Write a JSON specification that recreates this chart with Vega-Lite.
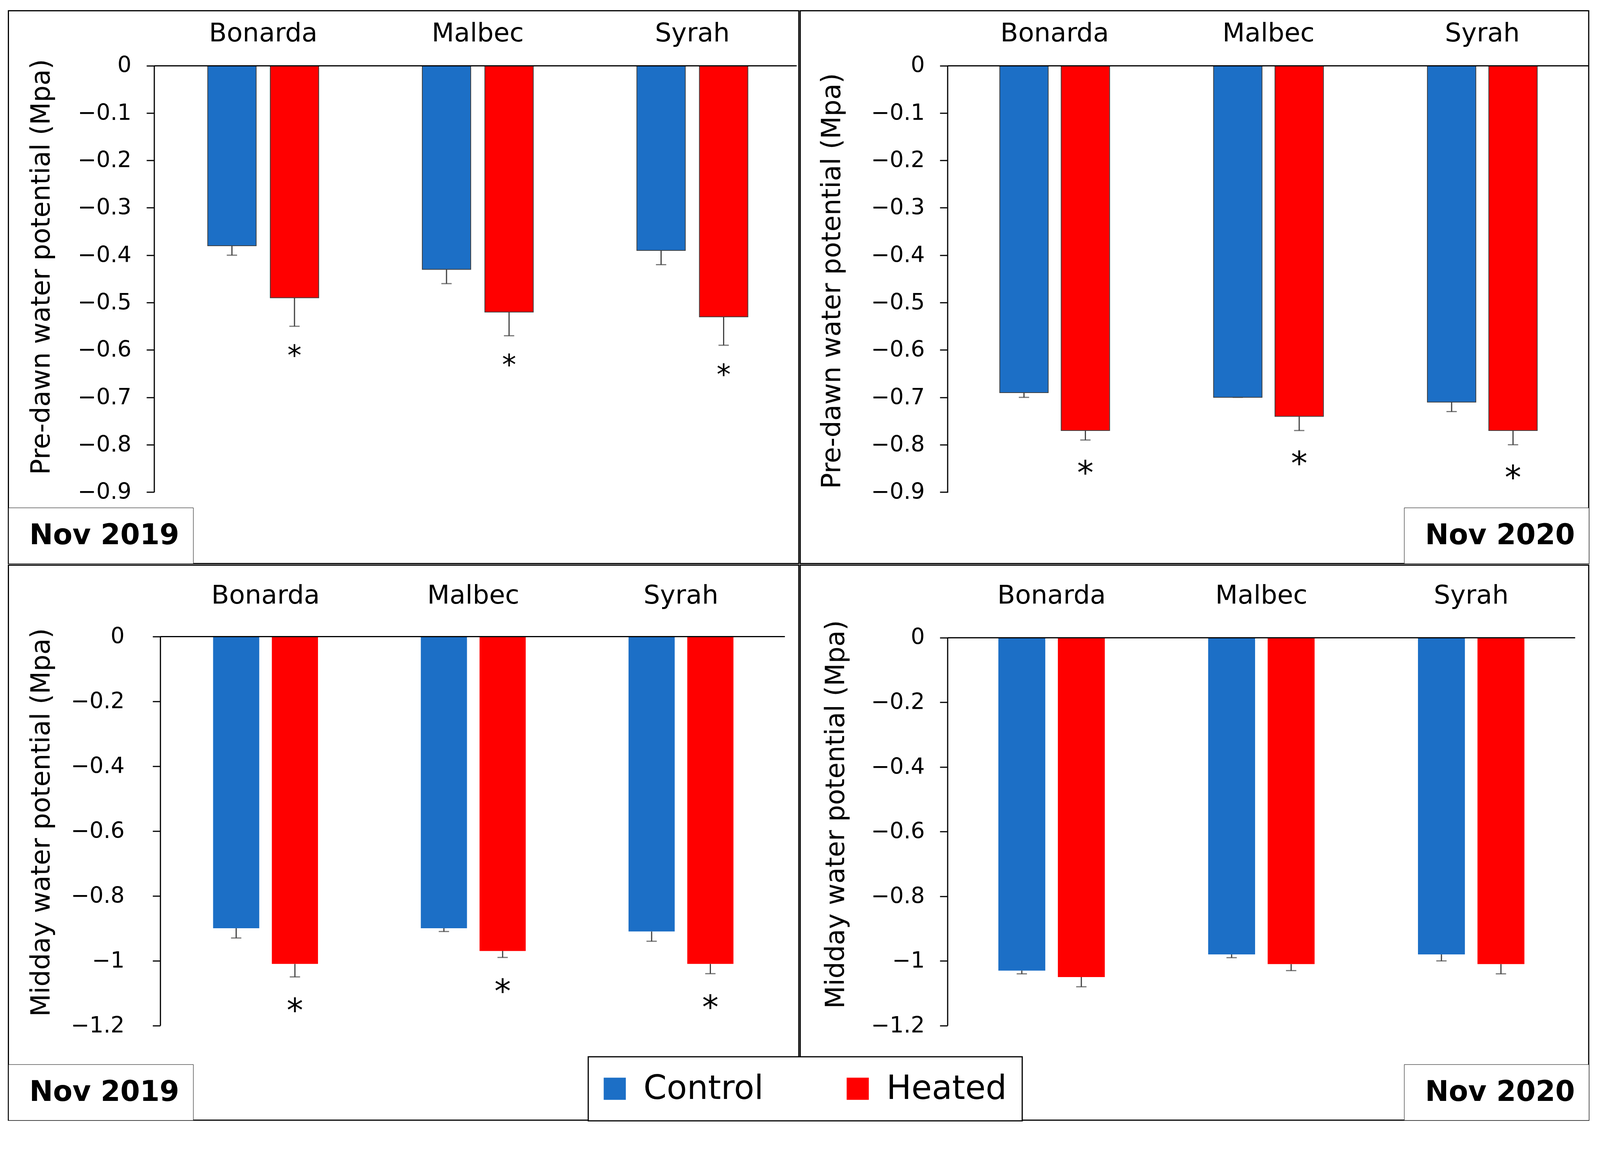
{
  "$schema": "https://vega.github.io/schema/vega-lite/v6.json",
  "background": "white",
  "padding": {"left": 19.5, "top": 25.4, "right": 10, "bottom": 10},
  "config": {
    "font": "DejaVu Sans",
    "view": {"stroke": "black", "strokeWidth": 3},
    "axis": {"grid": false, "labelColor": "black", "titleColor": "black", "domainColor": "black", "tickColor": "black", "labelLimit": 1000},
    "concat": {"spacing": 0}
  },
  "datasets": {
    "d": [
      {"panel": "pd2019", "period": "Nov 2019", "cultivar": "Bonarda", "treatment": "Control", "value": -0.38, "errLow": -0.40, "sig": ""},
      {"panel": "pd2019", "period": "Nov 2019", "cultivar": "Bonarda", "treatment": "Heated", "value": -0.49, "errLow": -0.55, "sig": "*"},
      {"panel": "pd2019", "period": "Nov 2019", "cultivar": "Malbec", "treatment": "Control", "value": -0.43, "errLow": -0.46, "sig": ""},
      {"panel": "pd2019", "period": "Nov 2019", "cultivar": "Malbec", "treatment": "Heated", "value": -0.52, "errLow": -0.57, "sig": "*"},
      {"panel": "pd2019", "period": "Nov 2019", "cultivar": "Syrah", "treatment": "Control", "value": -0.39, "errLow": -0.42, "sig": ""},
      {"panel": "pd2019", "period": "Nov 2019", "cultivar": "Syrah", "treatment": "Heated", "value": -0.53, "errLow": -0.59, "sig": "*"},
      {"panel": "pd2020", "period": "Nov 2020", "cultivar": "Bonarda", "treatment": "Control", "value": -0.69, "errLow": -0.70, "sig": ""},
      {"panel": "pd2020", "period": "Nov 2020", "cultivar": "Bonarda", "treatment": "Heated", "value": -0.77, "errLow": -0.79, "sig": "*"},
      {"panel": "pd2020", "period": "Nov 2020", "cultivar": "Malbec", "treatment": "Control", "value": -0.70, "errLow": -0.70, "sig": ""},
      {"panel": "pd2020", "period": "Nov 2020", "cultivar": "Malbec", "treatment": "Heated", "value": -0.74, "errLow": -0.77, "sig": "*"},
      {"panel": "pd2020", "period": "Nov 2020", "cultivar": "Syrah", "treatment": "Control", "value": -0.71, "errLow": -0.73, "sig": ""},
      {"panel": "pd2020", "period": "Nov 2020", "cultivar": "Syrah", "treatment": "Heated", "value": -0.77, "errLow": -0.80, "sig": "*"},
      {"panel": "md2019", "period": "Nov 2019", "cultivar": "Bonarda", "treatment": "Control", "value": -0.90, "errLow": -0.93, "sig": ""},
      {"panel": "md2019", "period": "Nov 2019", "cultivar": "Bonarda", "treatment": "Heated", "value": -1.01, "errLow": -1.05, "sig": "*"},
      {"panel": "md2019", "period": "Nov 2019", "cultivar": "Malbec", "treatment": "Control", "value": -0.90, "errLow": -0.91, "sig": ""},
      {"panel": "md2019", "period": "Nov 2019", "cultivar": "Malbec", "treatment": "Heated", "value": -0.97, "errLow": -0.99, "sig": "*"},
      {"panel": "md2019", "period": "Nov 2019", "cultivar": "Syrah", "treatment": "Control", "value": -0.91, "errLow": -0.94, "sig": ""},
      {"panel": "md2019", "period": "Nov 2019", "cultivar": "Syrah", "treatment": "Heated", "value": -1.01, "errLow": -1.04, "sig": "*"},
      {"panel": "md2020", "period": "Nov 2020", "cultivar": "Bonarda", "treatment": "Control", "value": -1.03, "errLow": -1.04, "sig": ""},
      {"panel": "md2020", "period": "Nov 2020", "cultivar": "Bonarda", "treatment": "Heated", "value": -1.05, "errLow": -1.08, "sig": ""},
      {"panel": "md2020", "period": "Nov 2020", "cultivar": "Malbec", "treatment": "Control", "value": -0.98, "errLow": -0.99, "sig": ""},
      {"panel": "md2020", "period": "Nov 2020", "cultivar": "Malbec", "treatment": "Heated", "value": -1.01, "errLow": -1.03, "sig": ""},
      {"panel": "md2020", "period": "Nov 2020", "cultivar": "Syrah", "treatment": "Control", "value": -0.98, "errLow": -1.00, "sig": ""},
      {"panel": "md2020", "period": "Nov 2020", "cultivar": "Syrah", "treatment": "Heated", "value": -1.01, "errLow": -1.04, "sig": ""}
    ]
  },
  "resolve": {"scale": {"shape": "independent", "xOffset": "independent"}, "legend": {"shape": "independent"}},
  "vconcat": [
    {
      "hconcat": [
        {
          "width": 2023.4, "height": 1415,
          "data": {"name": "d"},
          "transform": [{"filter": "datum.panel === 'pd2019'"}],
          "encoding": {
            "x": {"field": "cultivar", "type": "nominal", "sort": ["Bonarda", "Malbec", "Syrah"],
              "scale": {"paddingInner": 0.4827, "paddingOuter": 0.5831, "align": 0.7965},
              "axis": {"orient": "top", "offset": -140.6, "title": null, "labelAngle": 0, "ticks": false, "tickSize": 0, "labelFontSize": 66.4, "labelLimit": 1000, "labelBaseline": "alphabetic", "labelPadding": 62.5, "domainDash": [0, 373, 1644.5, 4000], "domainWidth": 3, "domainCap": "butt", "zindex": 1}},
            "xOffset": {"field": "treatment", "type": "nominal", "sort": ["Control", "Heated"], "scale": {"paddingInner": 0.2256, "paddingOuter": 0}}
          },
          "layer": [
            {"mark": {"type": "bar", "stroke": "#404040", "strokeWidth": 2},
             "encoding": {
               "y": {"field": "value", "type": "quantitative", "stack": null, "scale": {"domain": [-1.0506, 0.1159], "nice": false},
                 "axis": {"orient": "left", "offset": -373, "values": [0, -0.1, -0.2, -0.3, -0.4, -0.5, -0.6, -0.7, -0.8, -0.9], "format": "~g", "tickSize": 19.5, "tickWidth": 3, "labelFontSize": 56.6, "labelPadding": 39, "domainDash": [0, 182.6, 1091.8, 4000], "domainWidth": 3, "domainCap": "butt", "title": "Pre-dawn water potential (Mpa)", "titleFontSize": 67.4, "titleFontWeight": "normal", "titleBaseline": "middle", "titleAngle": 270, "titleX": -288, "titleY": 655.3}},
               "y2": {"datum": 0},
               "color": {"field": "treatment", "type": "nominal", "scale": {"domain": ["Control", "Heated"], "range": ["#1C6FC6", "#FF0000"]},
                 "legend": {"title": null, "orient": "none", "legendX": 1484.4, "legendY": 2677.7, "direction": "horizontal", "symbolType": "square", "symbolSize": 3208, "symbolStrokeWidth": 0, "symbolOffset": -13.6, "labelFontSize": 85, "labelColor": "black", "labelOffset": 31, "labelLimit": 1000, "columnPadding": 212, "padding": 39, "strokeColor": "black", "fillColor": "white", "zindex": 2, "encode": {"legend": {"update": {"strokeWidth": {"value": 3}}}}}}
             }},
            {"mark": {"type": "rule", "color": "#404040", "strokeWidth": 3},
             "encoding": {"y": {"field": "errLow", "type": "quantitative"}, "y2": {"field": "value"}}},
            {"mark": {"type": "tick", "color": "#404040", "thickness": 3, "size": 26.4},
             "encoding": {"y": {"field": "errLow", "type": "quantitative"}}},
            {"mark": {"type": "text", "baseline": "top", "dy": 43, "fontSize": 72.3, "color": "black"},
             "encoding": {"y": {"field": "errLow", "type": "quantitative"}, "text": {"field": "sig"}}},
            {"mark": {"type": "point", "opacity": 0},
             "encoding": {"y": {"field": "value", "type": "quantitative"},
               "shape": {"field": "period", "type": "nominal", "legend": {"title": null, "orient": "bottom-left", "offset": 0, "labelFontSize": 72.3, "labelFontWeight": "bold", "labelColor": "black", "labelOffset": -53.7, "labelLimit": 1000, "symbolSize": 0, "symbolOpacity": 0, "symbolStrokeWidth": 0, "padding": 35.2, "strokeColor": "black", "fillColor": "white", "zindex": 1, "encode": {"legend": {"update": {"strokeWidth": {"value": 3}}}}}}}}
          ]
        },
        {
          "width": 2018.6, "height": 1415,
          "data": {"name": "d"},
          "transform": [{"filter": "datum.panel === 'pd2020'"}],
          "encoding": {
            "x": {"field": "cultivar", "type": "nominal", "sort": ["Bonarda", "Malbec", "Syrah"],
              "scale": {"paddingInner": 0.4862, "paddingOuter": 0.587, "align": 0.795},
              "axis": {"orient": "top", "offset": -140.6, "title": null, "labelAngle": 0, "ticks": false, "tickSize": 0, "labelFontSize": 66.4, "labelLimit": 1000, "labelBaseline": "alphabetic", "labelPadding": 62.5, "domainDash": [0, 377, 1641.6, 4000], "domainWidth": 3, "domainCap": "butt", "zindex": 1}},
            "xOffset": {"field": "treatment", "type": "nominal", "sort": ["Control", "Heated"], "scale": {"paddingInner": 0.211, "paddingOuter": 0}}
          },
          "layer": [
            {"mark": {"type": "bar", "stroke": "#404040", "strokeWidth": 2},
             "encoding": {
               "y": {"field": "value", "type": "quantitative", "stack": null, "scale": {"domain": [-1.0506, 0.1159], "nice": false},
                 "axis": {"orient": "left", "offset": -377, "values": [0, -0.1, -0.2, -0.3, -0.4, -0.5, -0.6, -0.7, -0.8, -0.9], "format": "~g", "tickSize": 19.5, "tickWidth": 3, "labelFontSize": 56.6, "labelPadding": 39, "domainDash": [0, 181.6, 1092.8, 4000], "domainWidth": 3, "domainCap": "butt", "title": "Pre-dawn water potential (Mpa)", "titleFontSize": 67.4, "titleFontWeight": "normal", "titleBaseline": "middle", "titleAngle": 270, "titleX": -295, "titleY": 691.4}},
               "y2": {"datum": 0},
               "color": {"field": "treatment", "type": "nominal", "scale": {"domain": ["Control", "Heated"], "range": ["#1C6FC6", "#FF0000"]},
                 "legend": {"title": null, "orient": "none", "legendX": 1484.4, "legendY": 2677.7, "direction": "horizontal", "symbolType": "square", "symbolSize": 3208, "symbolStrokeWidth": 0, "symbolOffset": -13.6, "labelFontSize": 85, "labelColor": "black", "labelOffset": 31, "labelLimit": 1000, "columnPadding": 212, "padding": 39, "strokeColor": "black", "fillColor": "white", "zindex": 2, "encode": {"legend": {"update": {"strokeWidth": {"value": 3}}}}}}
             }},
            {"mark": {"type": "rule", "color": "#404040", "strokeWidth": 3},
             "encoding": {"y": {"field": "errLow", "type": "quantitative"}, "y2": {"field": "value"}}},
            {"mark": {"type": "tick", "color": "#404040", "thickness": 3, "size": 26.4},
             "encoding": {"y": {"field": "errLow", "type": "quantitative"}}},
            {"mark": {"type": "text", "baseline": "top", "dy": 46.9, "fontSize": 84, "color": "black"},
             "encoding": {"y": {"field": "errLow", "type": "quantitative"}, "text": {"field": "sig"}}},
            {"mark": {"type": "point", "opacity": 0},
             "encoding": {"y": {"field": "value", "type": "quantitative"},
               "shape": {"field": "period", "type": "nominal", "legend": {"title": null, "orient": "bottom-right", "offset": 0, "labelFontSize": 72.3, "labelFontWeight": "bold", "labelColor": "black", "labelOffset": -53.7, "labelLimit": 1000, "symbolSize": 0, "symbolOpacity": 0, "symbolStrokeWidth": 0, "padding": 35.2, "strokeColor": "black", "fillColor": "white", "zindex": 1, "encode": {"legend": {"update": {"strokeWidth": {"value": 3}}}}}}}}
          ]
        }
      ],
      "resolve": {"scale": {"shape": "independent", "xOffset": "independent"}, "legend": {"shape": "independent"}}
    },
    {
      "hconcat": [
        {
          "width": 2023.4, "height": 1420.9,
          "data": {"name": "d"},
          "transform": [{"filter": "datum.panel === 'md2019'"}],
          "encoding": {
            "x": {"field": "cultivar", "type": "nominal", "sort": ["Bonarda", "Malbec", "Syrah"],
              "scale": {"paddingInner": 0.495, "paddingOuter": 0.65, "align": 0.758},
              "axis": {"orient": "top", "offset": -182.6, "title": null, "labelAngle": 0, "ticks": false, "tickSize": 0, "labelFontSize": 66.4, "labelLimit": 1000, "labelBaseline": "alphabetic", "labelPadding": 84, "domainDash": [0, 388.7, 1598.6, 4000], "domainWidth": 3, "domainCap": "butt", "zindex": 1}},
            "xOffset": {"field": "treatment", "type": "nominal", "sort": ["Control", "Heated"], "scale": {"paddingInner": 0.214, "paddingOuter": 0}}
          },
          "layer": [
            {"mark": {"type": "bar"},
             "encoding": {
               "y": {"field": "value", "type": "quantitative", "stack": null, "scale": {"domain": [-1.4918, 0.22], "nice": false},
                 "axis": {"orient": "left", "offset": -388.7, "values": [0, -0.2, -0.4, -0.6, -0.8, -1, -1.2], "format": "~g", "tickSize": 19.5, "tickWidth": 3, "labelFontSize": 56.6, "labelPadding": 72.3, "domainDash": [0, 242.2, 996.1, 4000], "domainWidth": 3, "domainCap": "butt", "title": "Midday water potential (Mpa)", "titleFontSize": 67.4, "titleFontWeight": "normal", "titleBaseline": "middle", "titleAngle": 270, "titleX": -303.7, "titleY": 658.2}},
               "y2": {"datum": 0},
               "color": {"field": "treatment", "type": "nominal", "scale": {"domain": ["Control", "Heated"], "range": ["#1C6FC6", "#FF0000"]},
                 "legend": {"title": null, "orient": "none", "legendX": 1484.4, "legendY": 2677.7, "direction": "horizontal", "symbolType": "square", "symbolSize": 3208, "symbolStrokeWidth": 0, "symbolOffset": -13.6, "labelFontSize": 85, "labelColor": "black", "labelOffset": 31, "labelLimit": 1000, "columnPadding": 212, "padding": 39, "strokeColor": "black", "fillColor": "white", "zindex": 2, "encode": {"legend": {"update": {"strokeWidth": {"value": 3}}}}}}
             }},
            {"mark": {"type": "rule", "color": "#404040", "strokeWidth": 3},
             "encoding": {"y": {"field": "errLow", "type": "quantitative"}, "y2": {"field": "value"}}},
            {"mark": {"type": "tick", "color": "#404040", "thickness": 3, "size": 26.4},
             "encoding": {"y": {"field": "errLow", "type": "quantitative"}}},
            {"mark": {"type": "text", "baseline": "top", "dy": 48.8, "fontSize": 84, "color": "black"},
             "encoding": {"y": {"field": "errLow", "type": "quantitative"}, "text": {"field": "sig"}}},
            {"mark": {"type": "point", "opacity": 0},
             "encoding": {"y": {"field": "value", "type": "quantitative"},
               "shape": {"field": "period", "type": "nominal", "legend": {"title": null, "orient": "bottom-left", "offset": 0, "labelFontSize": 72.3, "labelFontWeight": "bold", "labelColor": "black", "labelOffset": -53.7, "labelLimit": 1000, "symbolSize": 0, "symbolOpacity": 0, "symbolStrokeWidth": 0, "padding": 35.2, "strokeColor": "black", "fillColor": "white", "zindex": 1, "encode": {"legend": {"update": {"strokeWidth": {"value": 3}}}}}}}}
          ]
        },
        {
          "width": 2018.6, "height": 1420.9,
          "data": {"name": "d"},
          "transform": [{"filter": "datum.panel === 'md2020'"}],
          "encoding": {
            "x": {"field": "cultivar", "type": "nominal", "sort": ["Bonarda", "Malbec", "Syrah"],
              "scale": {"paddingInner": 0.4927, "paddingOuter": 0.6255, "align": 0.755},
              "axis": {"orient": "top", "offset": -185.5, "title": null, "labelAngle": 0, "ticks": false, "tickSize": 0, "labelFontSize": 66.4, "labelLimit": 1000, "labelBaseline": "alphabetic", "labelPadding": 86.9, "domainDash": [0, 377, 1606.4, 4000], "domainWidth": 3, "domainCap": "butt", "zindex": 1}},
            "xOffset": {"field": "treatment", "type": "nominal", "sort": ["Control", "Heated"], "scale": {"paddingInner": 0.2115, "paddingOuter": 0}}
          },
          "layer": [
            {"mark": {"type": "bar"},
             "encoding": {
               "y": {"field": "value", "type": "quantitative", "stack": null, "scale": {"domain": [-1.4926, 0.2242], "nice": false},
                 "axis": {"orient": "left", "offset": -377, "values": [0, -0.2, -0.4, -0.6, -0.8, -1, -1.2], "format": "~g", "tickSize": 19.5, "tickWidth": 3, "labelFontSize": 56.6, "labelPadding": 39, "domainDash": [0, 242.2, 993.2, 4000], "domainWidth": 3, "domainCap": "butt", "title": "Midday water potential (Mpa)", "titleFontSize": 67.4, "titleFontWeight": "normal", "titleBaseline": "middle", "titleAngle": 270, "titleX": -285.2, "titleY": 637.7}},
               "y2": {"datum": 0},
               "color": {"field": "treatment", "type": "nominal", "scale": {"domain": ["Control", "Heated"], "range": ["#1C6FC6", "#FF0000"]},
                 "legend": {"title": null, "orient": "none", "legendX": 1484.4, "legendY": 2677.7, "direction": "horizontal", "symbolType": "square", "symbolSize": 3208, "symbolStrokeWidth": 0, "symbolOffset": -13.6, "labelFontSize": 85, "labelColor": "black", "labelOffset": 31, "labelLimit": 1000, "columnPadding": 212, "padding": 39, "strokeColor": "black", "fillColor": "white", "zindex": 2, "encode": {"legend": {"update": {"strokeWidth": {"value": 3}}}}}}
             }},
            {"mark": {"type": "rule", "color": "#404040", "strokeWidth": 3},
             "encoding": {"y": {"field": "errLow", "type": "quantitative"}, "y2": {"field": "value"}}},
            {"mark": {"type": "tick", "color": "#404040", "thickness": 3, "size": 26.4},
             "encoding": {"y": {"field": "errLow", "type": "quantitative"}}},
            {"mark": {"type": "point", "opacity": 0},
             "encoding": {"y": {"field": "value", "type": "quantitative"},
               "shape": {"field": "period", "type": "nominal", "legend": {"title": null, "orient": "bottom-right", "offset": 0, "labelFontSize": 72.3, "labelFontWeight": "bold", "labelColor": "black", "labelOffset": -53.7, "labelLimit": 1000, "symbolSize": 0, "symbolOpacity": 0, "symbolStrokeWidth": 0, "padding": 35.2, "strokeColor": "black", "fillColor": "white", "zindex": 1, "encode": {"legend": {"update": {"strokeWidth": {"value": 3}}}}}}}}
          ]
        }
      ],
      "resolve": {"scale": {"shape": "independent", "xOffset": "independent"}, "legend": {"shape": "independent"}}
    }
  ]
}
